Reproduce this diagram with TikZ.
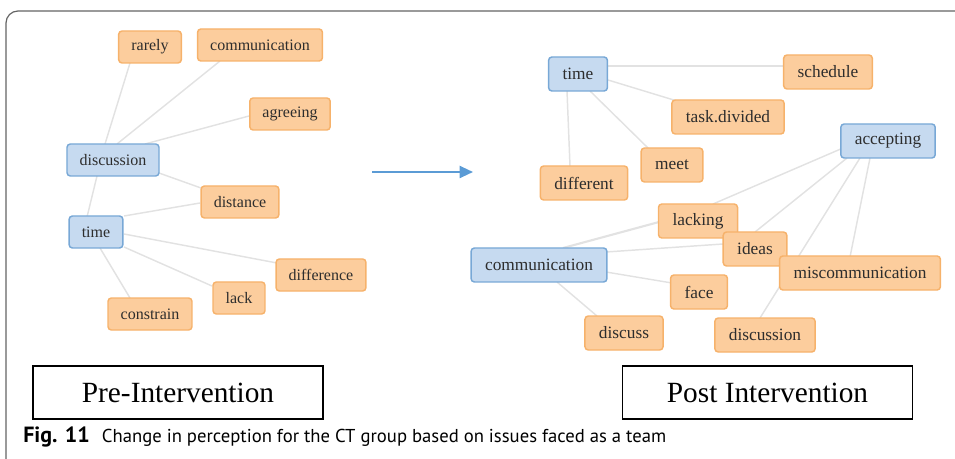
\documentclass[tikz,border=0pt]{standalone}
\usepackage{fontspec}
\setmainfont{Liberation Serif}
\newfontfamily\capfont{PT Sans}
\usepackage{tikz}
\usetikzlibrary{calc}
\usetikzlibrary{backgrounds}
\usetikzlibrary{arrows.meta}
\usepackage{xcolor}
\definecolor{orangefill}{RGB}{252,205,157}
\definecolor{orangeline}{RGB}{246,178,107}
\definecolor{bluefill}{RGB}{198,218,240}
\definecolor{blueline}{RGB}{120,168,214}
\definecolor{linkgray}{RGB}{226,226,226}
\definecolor{arrowblue}{RGB}{91,155,213}
\definecolor{wordgray}{RGB}{45,45,45}
\definecolor{framegray}{RGB}{100,100,100}
\tikzset{
  word/.style={draw, line width=1.1pt, rounded corners=2.5pt, inner ysep=0pt,
    minimum height=24pt, inner xsep=9.5pt, text=wordgray,
    font=\fontsize{12}{14}\selectfont},
  wordpost/.style={word, minimum height=25.5pt, inner xsep=10.5pt,
    font=\fontsize{13}{15}\selectfont},
  theme/.style={fill=bluefill, draw=blueline},
  term/.style={fill=orangefill, draw=orangeline},
  link/.style={linkgray, line width=1.1pt},
  shiftarrow/.style={arrowblue, line width=1.5pt, -{Triangle[length=10pt,width=9pt]}},
  phasebox/.style={draw=black, line width=1.1pt, minimum width=217.5pt,
    minimum height=39.75pt, inner sep=0pt, font=\fontsize{22}{24}\selectfont},
}

\begin{document}
\begin{tikzpicture}[x=0.75pt,y=-0.75pt]

%%%%%%%%%%%%%%%%%%%%%%%%%%%%%%%%%%%%%%%%%%%%%%%%%%%%%%%%%%%%%% Setup
\coordinate (C) at (0, 0);
\useasboundingbox ($(C)+(0,0)$) rectangle ($(C)+(955,459)$);
\draw[framegray, line width=0.9pt, rounded corners=9pt] ($(C)+(6,459)$) -- ($(C)+(6,11)$) -- ($(C)+(955,11)$);

%%%%%%%%%%%%%%%%%%%%%%%%%%%%%%%%%%%%%%%%%%%%%%%%%%%%%%%%%%%%%% Pre

\node[word, term] (rarely) at ($(C)+(150,47)$) {rarely};
\node[word, term] (precomm) at ($(C)+(260,45)$) {communication};
\node[word, term] (agreeing) at ($(C)+(290,114)$) {agreeing};
\node[word, theme] (prediscussion) at ($(C)+(113,160)$) {discussion};
\node[word, term] (distance) at ($(C)+(240,202)$) {distance};
\node[word, theme] (pretime) at ($(C)+(96,232)$) {time};
\node[word, term] (difference) at ($(C)+(321,275)$) {difference};
\node[word, term] (lack) at ($(C)+(239,298)$) {lack};
\node[word, term] (constrain) at ($(C)+(150,314)$) {constrain};

\begin{scope}[on background layer]
\draw[link] ($(rarely)+(-20,16)$) -- ($(prediscussion)+(-8,-16)$);
\draw[link] ($(precomm)+(-40,16)$) -- ($(prediscussion)+(4,-16)$);
\draw[link] ($(agreeing)+(-41,2)$) -- ($(prediscussion)+(32,-16)$);
\draw[link] ($(prediscussion)+(46,13)$) -- ($(distance)+(-39,-14)$);
\draw[link] ($(prediscussion)+(-16,16)$) -- ($(pretime)+(-9,-15)$);
\draw[link] ($(pretime)+(28,-16)$) -- ($(distance)+(-40,1)$);
\draw[link] ($(pretime)+(28,2)$) -- ($(difference)+(-44,-12)$);
\draw[link] ($(pretime)+(28,15)$) -- ($(lack)+(-27,-12)$);
\draw[link] ($(pretime)+(4,16)$) -- ($(constrain)+(-20,-16)$);
\end{scope}

%%%%%%%%%%%%%%%%%%%%%%%%%%%%%%%%%%%%%%%%%%%%%%%%%%%%%%%%%%%%%% Shift
\coordinate (shiftfrom) at ($(C)+(372,172)$);
\coordinate (shiftto) at ($(C)+(473,172)$);
\draw[shiftarrow] (shiftfrom) -- (shiftto);

%%%%%%%%%%%%%%%%%%%%%%%%%%%%%%%%%%%%%%%%%%%%%%%%%%%%%%%%%%%%%% Post

\node[wordpost, theme] (posttime) at ($(C)+(578,74)$) {time};
\node[wordpost, term] (schedule) at ($(C)+(828,72)$) {schedule};
\node[wordpost, term] (taskdivided) at ($(C)+(728,117)$) {task.divided};
\node[wordpost, theme] (accepting) at ($(C)+(888,141)$) {accepting};
\node[wordpost, term] (meet) at ($(C)+(672,165)$) {meet};
\node[wordpost, term] (different) at ($(C)+(584,183)$) {different};
\node[wordpost, term] (lacking) at ($(C)+(698,221)$) {lacking};
\node[wordpost, term] (ideas) at ($(C)+(755,249)$) {ideas};
\node[wordpost, theme] (postcomm) at ($(C)+(539,265)$) {communication};
\node[wordpost, term] (miscomm) at ($(C)+(860,273)$) {miscommunication};
\node[wordpost, term] (face) at ($(C)+(699,292)$) {face};
\node[wordpost, term] (discuss) at ($(C)+(624,333)$) {discuss};
\node[wordpost, term] (postdiscussion) at ($(C)+(765,335)$) {discussion};

\begin{scope}[on background layer]
\draw[link] ($(posttime)+(30,-8)$) -- ($(schedule)+(-44,-6)$);
\draw[link] ($(posttime)+(30,6)$) -- ($(taskdivided)+(-51,-16)$);
\draw[link] ($(posttime)+(12,17)$) -- ($(meet)+(-24,-17)$);
\draw[link] ($(posttime)+(-11,17)$) -- ($(different)+(-14,-17)$);
\draw[link] ($(accepting)+(-45,7)$) -- ($(lacking)+(15,-17)$);
\draw[link] ($(accepting)+(-41,17)$) -- ($(ideas)+(0,-17)$);
\draw[link] ($(accepting)+(-28,17)$) -- ($(postdiscussion)+(-5,-17)$);
\draw[link] ($(accepting)+(-18,17)$) -- ($(miscomm)+(-10,-16)$);
\draw[link, line width=1.6pt] ($(postcomm)+(24,-17)$) -- ($(lacking)+(-39,1)$);
\draw[link] ($(postcomm)+(67,-13)$) -- ($(ideas)+(-32,-5)$);
\draw[link] ($(postcomm)+(67,7)$) -- ($(face)+(-27,-9)$);
\draw[link] ($(postcomm)+(18,17)$) -- ($(discuss)+(-27,-17)$);
\end{scope}

%%%%%%%%%%%%%%%%%%%%%%%%%%%%%%%%%%%%%%%%%%%%%%%%%%%%%%%%%%%%%% Labels
\node[phasebox] (pre) at ($(C)+(178,392.5)$) {Pre-Intervention};
\node[phasebox] (post) at ($(C)+(767.5,392.5)$) {Post Intervention};

\node[anchor=base west, inner sep=0pt, font=\capfont\fontsize{14}{16}\selectfont] (caption) at ($(C)+(23,442)$)
  {{\fontsize{16.5}{18}\selectfont\textbf{Fig. 11}}\hspace{9pt}Change in perception for the CT group based on issues faced as a team};

\end{tikzpicture}
\end{document}
